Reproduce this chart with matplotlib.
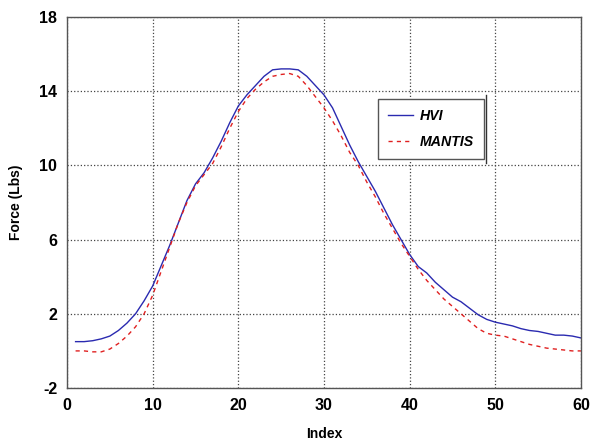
import matplotlib
matplotlib.use('Agg')
import matplotlib.pyplot as plt
from matplotlib.lines import Line2D
import numpy as np

# data
index = np.arange(1, 61)
hvi = [0.5, 0.5, 0.55, 0.65, 0.8, 1.1, 1.5, 2.0, 2.7, 3.5,
       4.6, 5.7, 6.9, 8.1, 9.0, 9.6, 10.4, 11.3, 12.3, 13.2,
       13.8, 14.3, 14.8, 15.15, 15.2, 15.2, 15.15, 14.8, 14.3, 13.8,
       13.1, 12.1, 11.1, 10.2, 9.4, 8.6, 7.7, 6.8, 6.0, 5.2,
       4.55, 4.2, 3.7, 3.3, 2.9, 2.65, 2.3, 1.95, 1.7, 1.55,
       1.45, 1.35, 1.2, 1.1, 1.05, 0.95, 0.85, 0.85, 0.8, 0.7]
mantis = [0.0, 0.0, -0.05, -0.05, 0.1, 0.4, 0.8, 1.3, 2.0, 3.0,
          4.3, 5.6, 6.9, 8.0, 8.9, 9.5, 10.1, 11.0, 12.0, 12.9,
          13.6, 14.1, 14.5, 14.8, 14.9, 14.95, 14.8, 14.3, 13.7, 13.1,
          12.4, 11.6, 10.7, 10.0, 9.1, 8.3, 7.4, 6.6, 5.8, 5.1,
          4.4, 3.8, 3.3, 2.8, 2.4, 2.0, 1.6, 1.2, 0.95, 0.85,
          0.8, 0.65, 0.5, 0.35, 0.25, 0.15, 0.1, 0.05, 0.0, 0.0]
xticks = [0, 10, 20, 30, 40, 50, 60]
yticks = [-2, 2, 6, 10, 14, 18]

plt.rcParams['font.family'] = ['Liberation Sans', 'DejaVu Sans']
plt.rcParams['axes.unicode_minus'] = False

fig = plt.figure(figsize=(5.9, 4.46), dpi=100)
ax = fig.add_axes([0.1136, 0.130, 0.871, 0.832])

ax.plot(index, hvi, color='#2a2ab0', lw=1.0, label='HVI')
ax.plot(index, mantis, color='#e02020', lw=1.0, ls=(0, (3, 3)), label='MANTIS')

ax.set_xlim(0, 60)
ax.set_ylim(-2, 18)
ax.set_xticks(xticks)
ax.set_yticks(yticks)
ax.tick_params(direction='in', length=0, labelsize=11.5, pad=7)
for lab in ax.get_xticklabels() + ax.get_yticklabels():
    lab.set_fontweight('bold')
ax.grid(True, color='#444444', ls=':', lw=0.9)
for s in ax.spines.values():
    s.set_color('#555555')
    s.set_linewidth(1.0)

ax.set_xlabel('Index', fontsize=10, fontweight='bold', labelpad=10)
ax.set_ylabel('Force (Lbs)', fontsize=10, fontweight='bold', labelpad=12)

leg = ax.legend(loc='upper left', bbox_to_anchor=(0.605, 0.779), borderaxespad=0,
                fancybox=False, framealpha=1, edgecolor='#555555',
                handlelength=1.75, handletextpad=0.5,
                prop={'style': 'italic', 'weight': 'bold', 'size': 10.2},
                borderpad=0.7, labelspacing=0.85)
leg.get_frame().set_linewidth(1.0)

# the stray vertical rule to the right of the legend
fig.add_artist(Line2D([486 / 590, 486 / 590], [1 - 95 / 446, 1 - 163 / 446],
                      color='#333333', lw=1.0))

fig.savefig('out.png', dpi=100)
